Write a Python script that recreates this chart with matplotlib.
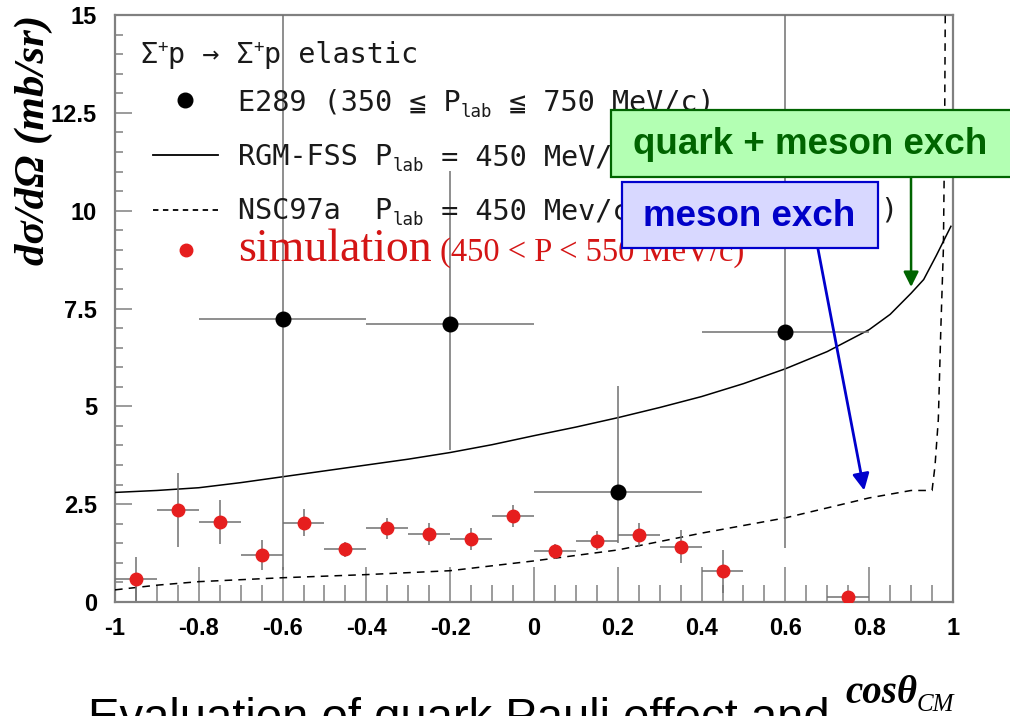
import numpy as np
import matplotlib.pyplot as plt
from matplotlib.transforms import Affine2D
from matplotlib.patches import Rectangle
from matplotlib.lines import Line2D

plt.rcParams['axes.unicode_minus'] = False

W, H = 1010, 716

# E289 data (black)
e289_x = [-0.6, -0.2, 0.2, 0.6]
e289_y = [7.24, 7.11, 2.80, 6.89]
e289_xerr = [0.2, 0.2, 0.2, 0.2]
e289_ylo = [6.42, 3.22, 1.29, 5.51]
e289_yhi = [9.0, 3.9, 2.71, 9.0]

# simulation (red)
sim_x = [-0.95, -0.85, -0.75, -0.65, -0.55, -0.45, -0.35, -0.25, -0.15, -0.05,
         0.05, 0.15, 0.25, 0.35, 0.45, 0.75]
sim_y = [0.59, 2.35, 2.04, 1.20, 2.03, 1.35, 1.88, 1.74, 1.61, 2.20,
         1.30, 1.57, 1.71, 1.41, 0.79, 0.12]
sim_yerr = [0.57, 0.95, 0.56, 0.38, 0.35, 0.19, 0.26, 0.28, 0.27, 0.28,
            0.19, 0.25, 0.30, 0.42, 0.55, 0.0]

# RGM-FSS (solid)
rgm_x = [-1.0, -0.9, -0.8, -0.7, -0.6, -0.5, -0.4, -0.3, -0.2, -0.1, 0.0,
         0.1, 0.2, 0.3, 0.4, 0.5, 0.6, 0.7, 0.8, 0.85, 0.9, 0.93, 0.96, 0.995]
rgm_y = [2.80, 2.85, 2.92, 3.05, 3.20, 3.35, 3.50, 3.65, 3.82, 4.02, 4.25,
         4.47, 4.71, 4.97, 5.25, 5.58, 5.96, 6.40, 6.96, 7.35, 7.89, 8.24, 8.85, 9.6]

# NSC97a (dashed)
nsc_x = [-1.0, -0.9, -0.8, -0.6, -0.4, -0.2, 0.0, 0.2, 0.4, 0.6, 0.8, 0.9,
         0.95, 0.957, 0.965, 0.971, 0.977, 0.98, 0.982]
nsc_y = [0.31, 0.43, 0.52, 0.62, 0.70, 0.80, 1.05, 1.33, 1.76, 2.15, 2.66, 2.85,
         2.85, 3.47, 4.67, 7.0, 9.0, 12.0, 16.0]

xtick_labels = ['-1', '-0.8', '-0.6', '-0.4', '-0.2', '0', '0.2', '0.4', '0.6', '0.8', '1']
ytick_labels = ['0', '2.5', '5', '7.5', '10', '12.5', '15']

fig = plt.figure(figsize=(W / 100, H / 100), dpi=100)
pix = Affine2D().scale(1 / W, -1 / H).translate(0, 1) + fig.transFigure
ax = fig.add_axes([115 / W, 1 - 602 / H, (953 - 115) / W, (602 - 15) / H])

grey = '#808080'
ax.plot(rgm_x, rgm_y, color='black', lw=1.1, zorder=3)
ax.plot(nsc_x, nsc_y, color='black', lw=1.1, ls=(0, (5, 4)), zorder=3)
ax.errorbar(e289_x, e289_y, xerr=e289_xerr, yerr=[e289_ylo, e289_yhi], fmt='o',
            color='black', ms=10.5, ecolor='#707070', elinewidth=1.1, capsize=0, zorder=4)
ax.errorbar(sim_x, sim_y, xerr=0.05, yerr=sim_yerr, fmt='o', color='#e61e1e',
            ms=9, ecolor='#707070', elinewidth=1.1, capsize=0, zorder=5)

ax.set_xlim(-1, 1)
ax.set_ylim(0, 15)
ax.set_xticks(np.linspace(-1, 1, len(xtick_labels)))
ax.set_xticks(np.arange(-1, 1.001, 0.05), minor=True)
ax.set_yticks(np.linspace(0, 15, len(ytick_labels)))
ax.set_yticks(np.arange(0, 15.001, 0.5), minor=True)
ax.set_xticklabels(xtick_labels)
ax.set_yticklabels(ytick_labels)
for s in ax.spines.values():
    s.set_color(grey)
    s.set_linewidth(1.6)
ax.tick_params(axis='x', which='major', direction='in', length=25, width=1.1,
               color=grey, pad=11, labelsize=17)
ax.tick_params(axis='x', which='minor', direction='in', length=12, width=1.1, color=grey)
ax.tick_params(axis='y', which='major', direction='in', length=12, width=1.1,
               color=grey, pad=13, labelsize=17)
ax.tick_params(axis='y', which='minor', direction='in', length=6, width=1.1, color=grey)
for lab in ax.get_xticklabels() + ax.get_yticklabels():
    lab.set_fontweight('bold')
    lab.set_family('Liberation Sans')

renderer = fig.canvas.get_renderer()


def pieces(x, y, items):
    for s, size, dy, kw in items:
        t = fig.text(x, y + dy, s, fontsize=size, va='baseline', ha='left',
                     transform=pix, **kw)
        x += t.get_window_extent(renderer).width
    return x


mono = dict(family=['DejaVu Sans Mono', 'DejaVu Sans'], color='#1a1a1a')
big, small = 20.5, 12.5

pieces(140, 63, [('Σ', big, 0, mono), ('+', small, -11, mono), ('p → Σ', big, 0, mono),
                 ('+', small, -11, mono), ('p elastic', big, 0, mono)])
pieces(238, 111, [('E289 (350 ≦ P', big, 0, mono), ('lab', small, 6, mono),
                  (' ≦ 750 MeV/c)', big, 0, mono)])
pieces(238, 165, [('RGM-FSS P', big, 0, mono), ('lab', small, 6, mono),
                  (' = 450 MeV/c', big, 0, mono)])
pieces(238, 219, [('NSC97a  P', big, 0, mono), ('lab', small, 6, mono),
                  (' = 450 Mev/c', big, 0, mono)])
fig.text(880, 219, ')', fontsize=big, va='baseline', transform=pix, **mono)

serif_red = dict(family='Liberation Serif', color='#d41515')
pieces(238, 261, [('simulation', 33, 0, serif_red),
                  (' (450 < P < 550 MeV/c)', 23.5, 0, serif_red)])

# legend symbols
fig.add_artist(Line2D([185], [100], marker='o', ms=10.5, color='black', transform=pix))
fig.add_artist(Line2D([153, 218], [155, 155], color='black', lw=1.3, transform=pix))
fig.add_artist(Line2D([153, 218], [210, 210], color='black', lw=1.3, ls=(0, (3, 2.5)),
                      transform=pix))
fig.add_artist(Line2D([186], [250], marker='o', ms=9, color='#e61e1e', transform=pix))

# annotation boxes
fig.add_artist(Rectangle((611, 110), 420, 67, transform=pix, facecolor='#b3ffb3',
                         edgecolor='#006400', lw=1.6, zorder=10))
fig.text(810, 144, 'quark + meson exch', transform=pix, fontsize=26.5, fontweight='bold',
         family='Liberation Sans', color='#006400', ha='center', va='center', zorder=11)
fig.add_artist(Rectangle((622, 182), 256, 66, transform=pix, facecolor='#d8d8ff',
                         edgecolor='#0000cc', lw=1.6, zorder=10))
fig.text(749, 216, 'meson exch', transform=pix, fontsize=26.5, fontweight='bold',
         family='Liberation Sans', color='#0000c8', ha='center', va='center', zorder=11)

ax.annotate('', xy=(0.9, 8.05), xycoords='data', xytext=(911, 177), textcoords=pix,
            arrowprops=dict(arrowstyle='-|>,head_length=0.9,head_width=0.45',
                            color='#006400', lw=1.8, shrinkA=0, shrinkB=0),
            annotation_clip=False, zorder=12)
ax.annotate('', xy=(0.788, 2.85), xycoords='data', xytext=(818, 249), textcoords=pix,
            arrowprops=dict(arrowstyle='-|>,head_length=1.0,head_width=0.5',
                            color='#0000cc', lw=2.0, shrinkA=0, shrinkB=0),
            annotation_clip=False, zorder=12)

# axis titles
fig.text(34, 15, 'dσ/dΩ (mb/sr)', transform=pix, rotation=90, ha='center', va='top',
         fontsize=31, fontweight='bold', style='italic', family='Liberation Serif')
pieces(845, 703, [('cosθ', 28, 0, dict(family='Liberation Serif', style='italic',
                                       fontweight='bold')),
                  ('CM', 18, 8, dict(family='Liberation Serif', style='italic'))])

fig.text(88, 731, 'Evaluation of quark Pauli effect and', transform=pix, fontsize=34,
         family='Liberation Sans', va='baseline', ha='left')

fig.savefig('out.png', dpi=100)
